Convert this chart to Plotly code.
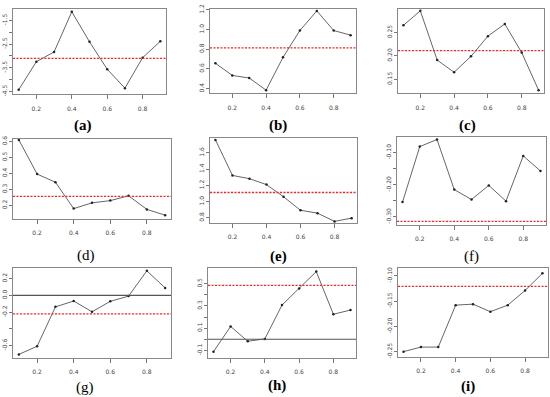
import plotly.graph_objects as go

W, H = 550, 397

x_vals = [0.1, 0.2, 0.3, 0.4, 0.5, 0.6, 0.7, 0.8, 0.9]
x_ticks = [0.2, 0.4, 0.6, 0.8]
x_ticktext = ["0.2", "0.4", "0.6", "0.8"]

panel_labels = ["(a)", "(b)", "(c)", "(d)", "(e)", "(f)", "(g)", "(h)", "(i)"]
label_bold = [True, True, True, False, True, False, False, True, True]

series_a = [-4.43, -3.24, -2.83, -1.13, -2.40, -3.56, -4.36, -3.07, -2.38]
series_b = [0.657, 0.533, 0.507, 0.383, 0.717, 0.99, 1.19, 0.99, 0.943]
series_c = [0.265, 0.296, 0.191, 0.165, 0.199, 0.242, 0.268, 0.207, 0.127]
series_d = [0.61, 0.396, 0.345, 0.18, 0.216, 0.23, 0.26, 0.175, 0.139]
series_e = [1.758, 1.321, 1.281, 1.208, 1.059, 0.893, 0.857, 0.756, 0.796]
series_f = [-0.254, -0.081, -0.059, -0.215, -0.246, -0.202, -0.251, -0.110, -0.157]
series_g = [-0.706, -0.608, -0.137, -0.067, -0.196, -0.071, -0.008, 0.294, 0.09]
series_h = [-0.112, 0.115, -0.018, 0.003, 0.308, 0.456, 0.609, 0.225, 0.263]
series_i = [-0.25, -0.241, -0.241, -0.158, -0.156, -0.171, -0.158, -0.129, -0.095]
all_series = [series_a, series_b, series_c, series_d, series_e,
              series_f, series_g, series_h, series_i]

red_levels = [-3.10, 0.813, 0.211, 0.257, 1.111, -0.314, -0.22, 0.485, -0.121]
zero_line = [None, None, None, None, None, None, 0.0, 0.0, None]

y_ranges = [(-4.625, -1.01), (0.35, 1.21), (0.12, 0.30), (0.114, 0.618), (0.735, 1.786),
            (-0.3255, -0.05), (-0.745, 0.325), (-0.166, 0.639), (-0.26, -0.085)]

y_tickvals = [
    [-4.5, -4.0, -3.5, -3.0, -2.5, -2.0, -1.5],
    [0.4, 0.6, 0.8, 1.0, 1.2],
    [0.15, 0.20, 0.25],
    [0.2, 0.3, 0.4, 0.5, 0.6],
    [0.8, 1.0, 1.2, 1.4, 1.6],
    [-0.30, -0.25, -0.20, -0.15, -0.10],
    [-0.6, -0.4, -0.2, 0.0, 0.2],
    [-0.1, 0.0, 0.1, 0.2, 0.3, 0.4, 0.5],
    [-0.25, -0.20, -0.15, -0.10],
]
y_ticktext = [
    ["-4.5", "", "-3.5", "", "-2.5", "", "-1.5"],
    ["0.4", "0.6", "0.8", "1.0", "1.2"],
    ["0.15", "0.20", "0.25"],
    ["0.2", "0.3", "0.4", "0.5", "0.6"],
    ["0.8", "1.0", "1.2", "1.4", "1.6"],
    ["-0.30", "", "-0.20", "", "-0.10"],
    ["-0.6", "", "-0.2", "0.0", "0.2"],
    ["-0.1", "", "0.1", "", "0.3", "", "0.5"],
    ["-0.25", "-0.20", "-0.15", "-0.10"],
]

# panel boxes in pixels: left, right, top, bottom
boxes = [(13, 166, 4, 91), (210, 356, 4, 90), (398, 544, 4, 90),
         (13, 171, 136, 218), (210, 357, 135, 222), (397, 546, 134, 224),
         (13, 171, 268, 359), (208, 356, 268, 359), (398, 548, 268, 358)]
label_pos = [(83, 123), (278, 123), (467, 123), (86, 255), (278, 256), (471, 256),
             (85, 389), (277, 387), (468, 388)]

fig = go.Figure()
layout = dict(width=W, height=H, margin=dict(l=0, r=0, t=0, b=0),
              paper_bgcolor="white", plot_bgcolor="white", showlegend=False)
annotations = []
tick_font = dict(family="DejaVu Sans", size=6, color="#444")

for i in range(9):
    n = "" if i == 0 else str(i + 1)
    xa, ya = "x" + n, "y" + n
    l, r, t, b = boxes[i]
    xr = (0.068, 0.932)
    fig.add_trace(go.Scatter(x=x_vals, y=all_series[i], mode="lines+markers",
                             line=dict(color="#666", width=1),
                             marker=dict(color="#222", size=2.5),
                             xaxis=xa, yaxis=ya, hoverinfo="skip"))
    fig.add_trace(go.Scatter(x=list(xr), y=[red_levels[i]] * 2, mode="lines",
                             line=dict(color="#ff2020", width=1.3, dash="2px,1.5px"),
                             xaxis=xa, yaxis=ya, hoverinfo="skip"))
    if zero_line[i] is not None:
        fig.add_trace(go.Scatter(x=list(xr), y=[zero_line[i]] * 2, mode="lines",
                                 line=dict(color="#555", width=1.2),
                                 xaxis=xa, yaxis=ya, hoverinfo="skip"))
    layout["xaxis" + n] = dict(domain=[l / W, r / W], anchor=ya, range=list(xr),
                              tickvals=x_ticks, ticktext=x_ticktext,
                              ticks="outside", ticklen=4, tickcolor="#777",
                              ticklabelstandoff=4,
                              showline=True, mirror=True, linecolor="#888", linewidth=1,
                              showgrid=False, zeroline=False, tickfont=tick_font)
    layout["yaxis" + n] = dict(domain=[1 - b / H, 1 - t / H], anchor=xa,
                              range=list(y_ranges[i]),
                              tickvals=y_tickvals[i], ticktext=y_ticktext[i],
                              tickangle=-90, ticks="outside", ticklen=3, tickcolor="#777",
                              showline=True, mirror=True, linecolor="#888", linewidth=1,
                              showgrid=False, zeroline=False, tickfont=tick_font)
    lx, ly = label_pos[i]
    txt = "<b>%s</b>" % panel_labels[i] if label_bold[i] else panel_labels[i]
    annotations.append(dict(x=lx / W, y=1 - ly / H, xref="paper", yref="paper",
                            text=txt, showarrow=False, xanchor="center", yanchor="middle",
                            font=dict(family="Liberation Serif", size=15, color="black")))

layout["annotations"] = annotations
fig.update_layout(**layout)
fig.write_html("out.html",
               config={"displayModeBar": False},
               post_script="document.body.style.margin='0';document.body.style.padding='0';"
                           "document.body.style.overflow='hidden';")
